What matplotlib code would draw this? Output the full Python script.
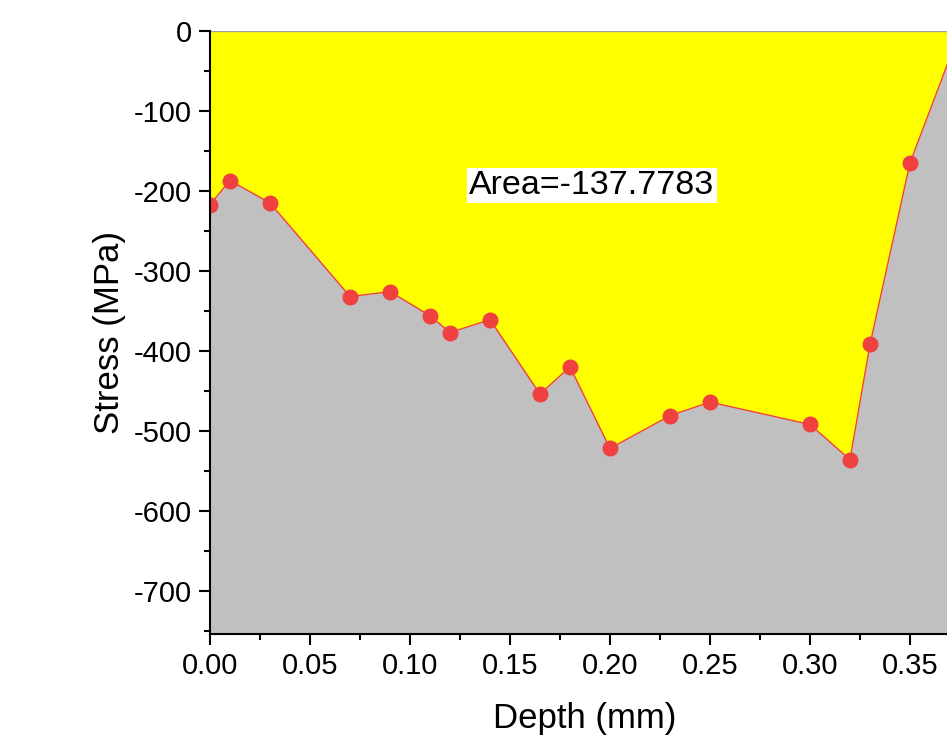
import numpy as np
import matplotlib
matplotlib.use("Agg")
import matplotlib.pyplot as plt
from matplotlib.ticker import MultipleLocator

# -- DATA -------------------------------------------------------------------------
depth = [0.00, 0.01, 0.03, 0.07, 0.09, 0.11, 0.12, 0.14, 0.165, 0.18,
         0.20, 0.23, 0.25, 0.30, 0.32, 0.33, 0.35, 0.375]
stress = [-217, -187, -215, -332, -326, -356, -377, -361, -454, -420,
          -522, -481, -464, -492, -536, -392, -165, 0]
area_text = "Area=-137.7783"

# -- STYLE ------------------------------------------------------------------------
plt.rcParams['font.family'] = ['Liberation Sans', 'DejaVu Sans']

fig = plt.figure(figsize=(9.47, 7.39), dpi=100)
# axes run off the right side of the figure, like the reference crop
ax = fig.add_axes([210 / 947, 105 / 739, 800 / 947, 603 / 739])

ymin = -754
ax.fill_between(depth, 0, stress, color="#FFFF00", linewidth=0)
ax.fill_between(depth, stress, ymin, color="#C0C0C0", linewidth=0)
ax.axhline(0, color="#A0A0A0", lw=1)
ax.plot(depth, stress, color="#F04040", lw=1, marker="o", markersize=10.5,
        markerfacecolor="#F04040", markeredgecolor="#F04040", zorder=5)

ax.text(0.191, -193, area_text, fontsize=24.5, ha="center", va="center",
        bbox=dict(facecolor="white", edgecolor="none", pad=1.5))

ax.set_xlim(0, 0.40)
ax.set_ylim(ymin, 0)
ax.xaxis.set_minor_locator(MultipleLocator(0.025))
ax.yaxis.set_minor_locator(MultipleLocator(50))
ax.set_xticks(np.arange(0, 0.36, 0.05))
ax.set_xticklabels([f"{v:.2f}" for v in np.arange(0, 0.36, 0.05)])
ax.set_yticks(np.arange(-700, 1, 100))
ax.set_yticklabels([str(int(v)) for v in np.arange(-700, 1, 100)])

for side in ["top", "right"]:
    ax.spines[side].set_visible(False)
for side in ["left", "bottom"]:
    ax.spines[side].set_linewidth(1.5)
    ax.spines[side].set_zorder(6)

ax.tick_params(which="major", direction="out", length=8, width=1.5, labelsize=21, pad=5)
ax.tick_params(which="minor", direction="out", length=4.5, width=1.5)

ax.set_xlabel("Depth (mm)", fontsize=25)
ax.set_ylabel("Stress (MPa)", fontsize=25)
ax.xaxis.set_label_coords(375 / 800, -68 / 603)
ax.yaxis.set_label_coords(-84 / 800, 0.5)

fig.savefig("out.png", dpi=100)
